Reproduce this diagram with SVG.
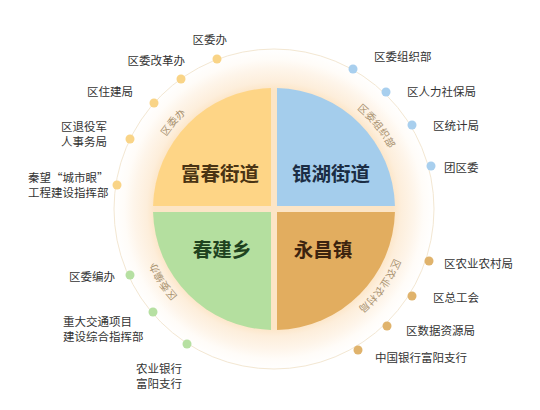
<svg xmlns="http://www.w3.org/2000/svg" width="540" height="410" viewBox="0 0 540 410">
<defs>
<radialGradient id="halo" gradientUnits="userSpaceOnUse" cx="274" cy="209" r="161">
<stop offset="0.74" stop-color="#fce5c6"/>
<stop offset="0.79" stop-color="#fdeedb"/>
<stop offset="0.87" stop-color="#fef5ea"/>
<stop offset="0.93" stop-color="#fffcf8"/>
<stop offset="1" stop-color="#ffffff"/>
</radialGradient>
<path id="arcPath" d="M404,209 A130,130 0 1 1 144,209 A130,130 0 1 1 404,209"/>
<style>
.lbl{font-family:"Noto Sans CJK SC","Noto Sans",sans-serif;font-size:11.5px;fill:#333333}
.ttl{font-family:"Noto Sans CJK SC","Noto Sans",sans-serif;font-size:19.5px;font-weight:bold;text-anchor:middle}
.arc{font-family:"Noto Sans CJK SC","Noto Sans",sans-serif;font-size:10px;fill:#a8916f;letter-spacing:0.4px}
.end{text-anchor:end}
.dy{fill:#f9d487}
.db{fill:#a8cfee}
.dg{fill:#b6e0a2}
.do{fill:#e0b36c}
</style>
</defs>
<rect width="540" height="410" fill="#ffffff"/>
<g id="ring">
<circle cx="274" cy="209" r="160" fill="url(#halo)"/>
<circle cx="274" cy="209" r="160" fill="none" stroke="#f3e7d2" stroke-width="1"/>
</g>
<g id="q-fuchun">
<path d="M271,206 L271,88.04 A121,121 0 0 0 153.04,206 Z" fill="#fed586"/>
<text class="ttl" x="220" y="181" fill="#4a3414">富春街道</text>
</g>
<g id="q-yinhu">
<path d="M277,206 L277,88.04 A121,121 0 0 1 394.96,206 Z" fill="#a4cdec"/>
<text class="ttl" x="331" y="181" fill="#1b2d44">银湖街道</text>
</g>
<g id="q-chunjian">
<path d="M271,212 L153.04,212 A121,121 0 0 0 271,329.96 Z" fill="#b4df9f"/>
<text class="ttl" x="222" y="257" fill="#1f431f">春建乡</text>
</g>
<g id="q-yongchang">
<path d="M277,212 L277,329.96 A121,121 0 0 0 394.96,212 Z" fill="#e2ad5f"/>
<text class="ttl" x="323" y="257" fill="#3c230f">永昌镇</text>
</g>
<g id="arc-labels">
<text class="arc"><textPath href="#arcPath" startOffset="500.8" text-anchor="middle">区委办</textPath></text>
<text class="arc"><textPath href="#arcPath" startOffset="728.3" text-anchor="middle">区委组织部</textPath></text>
<text class="arc"><textPath href="#arcPath" startOffset="333.5" text-anchor="middle">区委编办</textPath></text>
<text class="arc"><textPath href="#arcPath" startOffset="81.7" text-anchor="middle">区农业农村局</textPath></text>
</g>
<g id="n-qwb"><circle class="dy" cx="217" cy="59" r="4.5"/><text class="lbl end" x="227" y="44">区委办</text></g>
<g id="n-qwggb"><circle class="dy" cx="181" cy="79" r="4.5"/><text class="lbl end" x="185" y="65">区委改革办</text></g>
<g id="n-qzjj"><circle class="dy" cx="154" cy="103" r="4.5"/><text class="lbl end" x="133" y="96">区住建局</text></g>
<g id="n-qtyj"><circle class="dy" cx="130" cy="139" r="4.5"/><text class="lbl end" x="107" y="131">区退役军</text><text class="lbl end" x="107" y="145.5">人事务局</text></g>
<g id="n-qw"><circle class="dy" cx="117" cy="185" r="4.5"/><text class="lbl" x="28" y="181.5">秦望“城市眼”</text><text class="lbl" x="28" y="196.5">工程建设指挥部</text></g>
<g id="n-qwzzb"><circle class="db" cx="353" cy="69" r="4.5"/><text class="lbl" x="374" y="61">区委组织部</text></g>
<g id="n-qrlsbj"><circle class="db" cx="386" cy="92" r="4.5"/><text class="lbl" x="407" y="96">区人力社保局</text></g>
<g id="n-qtjj"><circle class="db" cx="412" cy="125" r="4.5"/><text class="lbl" x="433" y="130">区统计局</text></g>
<g id="n-tqw"><circle class="db" cx="431" cy="166" r="4.5"/><text class="lbl" x="444" y="172">团区委</text></g>
<g id="n-qwbb"><circle class="dg" cx="130" cy="275" r="4.5"/><text class="lbl end" x="115" y="281">区委编办</text></g>
<g id="n-zdjt"><circle class="dg" cx="153" cy="312" r="4.5"/><text class="lbl" x="63" y="326">重大交通项目</text><text class="lbl" x="63" y="341">建设综合指挥部</text></g>
<g id="n-nyyh"><circle class="dg" cx="187" cy="344" r="4.5"/><text class="lbl" x="136" y="373">农业银行</text><text class="lbl" x="136" y="388">富阳支行</text></g>
<g id="n-qnyncj"><circle class="do" cx="429" cy="261" r="4.5"/><text class="lbl" x="444" y="268">区农业农村局</text></g>
<g id="n-qzgh"><circle class="do" cx="412" cy="296" r="4.5"/><text class="lbl" x="433" y="302">区总工会</text></g>
<g id="n-qsjzyj"><circle class="do" cx="387" cy="326" r="4.5"/><text class="lbl" x="406" y="335">区数据资源局</text></g>
<g id="n-zgyh"><circle class="do" cx="358" cy="350" r="4.5"/><text class="lbl" x="375" y="362">中国银行富阳支行</text></g>
<g id="connectors"></g>
</svg>
